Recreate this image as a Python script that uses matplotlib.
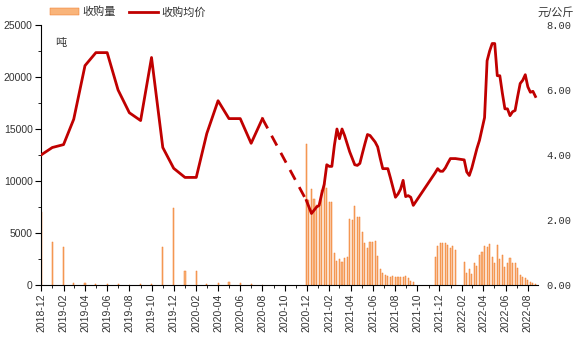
import matplotlib
matplotlib.use("Agg")
import matplotlib.pyplot as plt
import matplotlib.dates as mdates
from matplotlib.ticker import MultipleLocator, FuncFormatter
import pandas as pd
import numpy as np

plt.rcParams['font.family'] = ['Liberation Sans', 'Noto Sans CJK SC', 'DejaVu Sans']

# ---------------- data ----------------
# monthly period (2018-12 .. 2020-08)
monthly_dates = pd.date_range('2018-12-01', '2020-08-01', freq='MS')
monthly_volume = [7050, 4160, 3680, 220, 220, 130, 130, 50, 20, 100, 130, 3620,
                  7370, 1380, 1380, 130, 200, 320, 150, 70, 30]
monthly_price = [4.00, 4.23, 4.32, 5.10, 6.75, 7.15, 7.15, 6.00, 5.30, 5.06, 7.00, 4.23,
                 3.59, 3.31, 3.31, 4.66, 5.67, 5.12, 5.12, 4.36, 5.12]

# weekly period A (2020-12 .. 2021-09)
weekA_dates = pd.date_range('2020-11-30', periods=43, freq='7D')
weekA_volume = [13600, 8200, 9200, 8300, 7700, 7900, 9100, 9800, 9300, 8000, 8000,
                3050, 2300, 2470, 2240, 2560, 2720, 6320, 6250, 7600, 6510, 6570,
                5130, 4010, 3530, 4170, 4170, 4260, 2790, 1510, 1190, 960, 865,
                800, 865, 740, 800, 740, 800, 865, 640, 385, 290]
weekA_price = [2.60, 2.40, 2.20, 2.30, 2.40, 2.45, 2.80, 3.10, 3.70, 3.65, 3.65,
               4.30, 4.80, 4.50, 4.80, 4.60, 4.35, 4.10, 3.90, 3.70, 3.68, 3.74,
               4.05, 4.35, 4.63, 4.60, 4.50, 4.40, 4.25, 3.90, 3.58, 3.58, 3.58,
               3.30, 3.00, 2.70, 2.80, 2.95, 3.22, 2.72, 2.75, 2.70, 2.45]

# weekly period B (2021-11 .. 2022-01)
weekB_dates = pd.date_range('2021-11-19', periods=9, freq='7D')
weekB_volume = [2720, 3750, 4010, 4070, 4070, 3850, 3530, 3750, 3370]
weekB_price = [3.45, 3.58, 3.50, 3.50, 3.60, 3.75, 3.89, 3.89, 3.89]

# weekly period C (2022-02 .. 2022-08)
weekC_dates = pd.date_range('2022-02-07', periods=29, freq='7D')
weekC_volume = [2240, 1120, 1510, 1060, 2080, 1830, 2900, 3200, 3750, 3690, 3940,
                2720, 2140, 3810, 2470, 2880, 1760, 2080, 2560, 2140, 2140, 1600,
                960, 740, 640, 480, 320, 220, 60]
weekC_price = [3.85, 3.48, 3.37, 3.60, 3.90, 4.20, 4.45, 4.80, 5.15, 6.90, 7.20,
               7.43, 7.43, 6.44, 6.44, 5.90, 5.42, 5.42, 5.21, 5.33, 5.37, 5.80,
               6.20, 6.30, 6.47, 6.10, 5.93, 5.96, 5.80]

legend_labels = ['收购量', '收购均价']
left_unit = '吨'
right_unit = '元/公斤'

# ---------------- figure ----------------
fig = plt.figure(figsize=(5.76, 3.42), dpi=100)
ax = fig.add_axes([41/576, 1-285/342, (538-41)/576, (285-25)/342])
ax2 = ax.twinx()

bar_face = '#F9B47A'
bar_edge = '#F07A28'
line_col = '#C00000'

all_bar_dates = list(monthly_dates) + list(weekA_dates) + list(weekB_dates) + list(weekC_dates)
all_bar_vals = monthly_volume + weekA_volume + weekB_volume + weekC_volume
ax.bar(all_bar_dates, all_bar_vals, width=3, color=bar_face, edgecolor=bar_edge,
       linewidth=0.35, zorder=2, label=legend_labels[0])

lw = 2.0
ax2.plot(monthly_dates, monthly_price, color=line_col, lw=lw, zorder=3,
         label=legend_labels[1])
ax2.plot([monthly_dates[-1], weekA_dates[0]], [monthly_price[-1], weekA_price[0]],
         color=line_col, lw=lw, ls=(0, (4, 3)), zorder=3)
later_dates = list(weekA_dates) + list(weekB_dates) + list(weekC_dates)
later_price = weekA_price + weekB_price + weekC_price
ax2.plot(later_dates, later_price, color=line_col, lw=lw, zorder=3)

# axes ranges
ax.set_xlim(pd.Timestamp('2018-12-01'), pd.Timestamp('2022-08-29'))
ax.set_ylim(0, 25000)
ax2.set_ylim(0, 8)

ax.yaxis.set_major_locator(MultipleLocator(5000))
ax.yaxis.set_minor_locator(MultipleLocator(2500))
ax2.yaxis.set_major_locator(MultipleLocator(2))
ax2.yaxis.set_major_formatter(FuncFormatter(lambda v, p: f'{v:.2f}'))

ax.xaxis.set_major_locator(mdates.MonthLocator(bymonth=[2, 4, 6, 8, 10, 12]))
ax.xaxis.set_major_formatter(mdates.DateFormatter('%Y-%m'))
ax.xaxis.set_minor_locator(mdates.MonthLocator())

for lbl in ax.get_xticklabels():
    lbl.set_rotation(90)

tc = '#333333'
ax.tick_params(axis='x', which='major', labelsize=7.5, colors='black', labelcolor=tc,
               direction='out', length=4, width=0.8, pad=2)
ax.tick_params(axis='x', which='minor', direction='out', length=2, width=0.6)
ax.tick_params(axis='y', which='major', labelsize=7.5, labelcolor=tc,
               direction='out', length=4, width=0.8, pad=2)
ax.tick_params(axis='y', which='minor', direction='out', length=2, width=0.6)
ax2.tick_params(axis='y', which='major', labelsize=7.5, labelcolor=tc, length=0, pad=6)
for lbl in ax2.get_yticklabels():
    lbl.set_family(['Liberation Mono', 'DejaVu Sans Mono'])

for s in ['top', 'right']:
    ax.spines[s].set_visible(False)
for s in ['top', 'right', 'left', 'bottom']:
    ax2.spines[s].set_visible(False)
ax.spines['left'].set_linewidth(0.8)
ax.spines['bottom'].set_linewidth(0.8)

ax.set_zorder(ax2.get_zorder() - 1)
ax2.patch.set_visible(False)

# unit labels
fig.text(55/576, 1-43/342, left_unit, fontsize=8, color=tc, va='center', ha='left')
fig.text(574/576, 1-12/342, right_unit, fontsize=8, color=tc, va='center', ha='right')

# legend
h1, l1 = ax.get_legend_handles_labels()
h2, l2 = ax2.get_legend_handles_labels()
fig.legend(h1 + h2, l1 + l2, loc='center left', bbox_to_anchor=(50/576, 1-12/342),
           ncol=2, frameon=False, fontsize=8, handlelength=2.6, handleheight=0.6,
           columnspacing=1.2, handletextpad=0.3, borderaxespad=0, borderpad=0,
           labelcolor=tc)

fig.savefig('out.png', dpi=100)
